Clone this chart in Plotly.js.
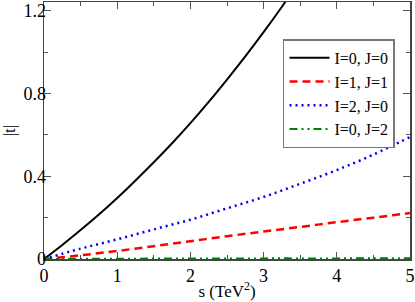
<!DOCTYPE html>
<html><head><meta charset="utf-8">
<script src="https://cdn.plot.ly/plotly-3.0.1.min.js"></script>
<style>html,body{margin:0;padding:0;background:#fff;}#chart{width:415px;height:302px;}</style>
</head><body><div id="chart"></div>
<script>
const sBlack = [0, 0.25, 0.5, 0.75, 1.0, 1.25, 1.5, 1.75, 2.0, 2.25, 2.5, 2.75, 3.0, 3.25, 3.5];
const tBlack = [0, 0.068, 0.14, 0.215, 0.295, 0.38, 0.468, 0.56, 0.657, 0.76, 0.868, 0.98, 1.097, 1.22, 1.35];
const sGrid = [0, 0.5, 1.0, 1.5, 2.0, 2.5, 3.0, 3.5, 4.0, 4.5, 5.0];
const tRed = [0, 0.018, 0.039, 0.062, 0.086, 0.11, 0.133, 0.155, 0.178, 0.20, 0.222];
const tBlue = [0, 0.05, 0.095, 0.143, 0.19, 0.245, 0.30, 0.364, 0.43, 0.505, 0.59];
const tGreen = [0, 0.001, 0.001, 0.002, 0.002, 0.002, 0.003, 0.003, 0.003, 0.004, 0.004];
const names = ["I=0, J=0", "I=1, J=1", "I=2, J=0", "I=0, J=2"];

const FAM = "Liberation Serif";
const font = {family: FAM, color: "#000"};
const traces = [
  {x: sBlack, y: tBlack, name: names[0], mode: "lines", line: {color: "#000", width: 2, shape: "spline"}},
  {x: sGrid, y: tRed, name: names[1], mode: "lines", line: {color: "#ff0000", width: 2.5, dash: "8px,5px", shape: "spline"}},
  {x: sGrid, y: tBlue, name: names[2], mode: "lines", line: {color: "#0000ff", width: 2.5, dash: "2px,4px", shape: "spline"}},
  {x: sGrid, y: tGreen, name: names[3], mode: "lines", line: {color: "#008000", width: 2, dash: "8px,4px,2px,4px,2px,4px", shape: "spline"}}
];
const axisCommon = {
  showgrid: false, zeroline: false, showline: true, linecolor: "#444", linewidth: 1.5,
  mirror: "allticks", ticks: "inside", ticklen: 7, tickwidth: 1, tickcolor: "#555",
  tickfont: {family: FAM, size: 18, color: "#000"}
};
const layout = {
  width: 415, height: 302,
  margin: {l: 44, r: 5, t: 2, b: 43},
  paper_bgcolor: "#fff", plot_bgcolor: "#fff",
  font: font,
  showlegend: true,
  legend: {x: 0.653, y: 0.855, xanchor: "left", yanchor: "top", bgcolor: "#fff",
    bordercolor: "#777", borderwidth: 1.5, font: {family: FAM, size: 16, color: "#000"},
    tracegroupgap: 0, itemwidth: 40},
  xaxis: Object.assign({}, axisCommon, {range: [0, 5], dtick: 1, tick0: 0, ticklabelstandoff: 0,
    minor: {dtick: 0.5, ticks: "inside", ticklen: 4, tickcolor: "#555", showgrid: false},
    title: {text: "s (TeV<sup>2</sup>)", font: {family: FAM, size: 17, color: "#000"}, standoff: 0}}),
  yaxis: Object.assign({}, axisCommon, {range: [0, 1.243], dtick: 0.4, tick0: 0, ticklabelstandoff: -7,
    minor: {dtick: 0.2, ticks: "inside", ticklen: 4, tickcolor: "#555", showgrid: false},
    title: {text: "|t|", font: {family: FAM, size: 17, color: "#000"}, standoff: 4}})
};
Plotly.newPlot("chart", traces, layout, {displayModeBar: false, staticPlot: true});
</script></body></html>
